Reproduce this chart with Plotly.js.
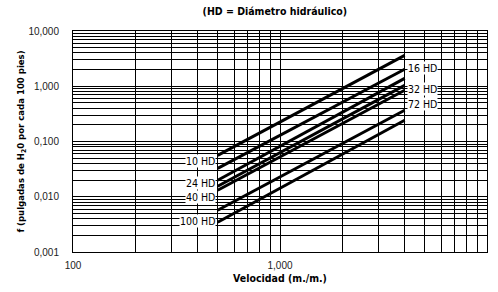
<!DOCTYPE html>
<html><head><meta charset="utf-8">
<script src="https://cdn.plot.ly/plotly-3.0.1.min.js"></script>
<style>html,body{margin:0;padding:0;background:#fff}</style>
</head><body>
<div id="chart" style="width:498px;height:292px"></div>
<script>
// Data
const seriesNames = ["10 HD", "16 HD", "24 HD", "32 HD", "40 HD", "72 HD", "100 HD"];
const velocity = [500, 4000];
const lossStart = [0.056, 0.0327, 0.0199, 0.0155, 0.0131, 0.00569, 0.00345];
const lossEnd = [3.63, 2.03, 1.39, 1.04, 0.845, 0.367, 0.242];
const xTickLabels = ["100", "1,000", "10,000"];
const yTickLabels = ["0,001", "0,010", "0,100", "1,000", "10,000"];
const leftLabels = ["10 HD", "24 HD", "40 HD", "100 HD"];
const rightLabels = ["16 HD", "32 HD", "72 HD"];

const narrow = '"Liberation Sans Narrow", "Arial Narrow", "DejaVu Sans Condensed", sans-serif';
const regular = '"Liberation Sans", Arial, sans-serif';

function gridTicks(fromExp, toExp, labels) {
  const vals = [], txt = [];
  for (let e = fromExp; e <= toExp; e++) {
    for (let m = 1; m <= 9; m++) {
      if (e === toExp && m > 1) break;
      vals.push(m * Math.pow(10, e));
      txt.push(m === 1 ? labels[e - fromExp] : "");
    }
  }
  return {vals, txt};
}
const xt = gridTicks(2, 4, xTickLabels);
const yt = gridTicks(-3, 1, yTickLabels);

const traces = seriesNames.map((n, i) => ({
  type: "scatter", mode: "lines", name: n,
  x: velocity, y: [lossStart[i], lossEnd[i]],
  line: {color: "#000", width: 3}, showlegend: false, hoverinfo: "skip"
}));

// label positions (layout): pixel offsets from the line ends
const leftShift = {"10 HD": -5.7, "24 HD": -3, "40 HD": -7, "100 HD": 1};
const rightShift = {"16 HD": 1, "32 HD": -4, "72 HD": 6};
const annotations = [];
leftLabels.forEach(n => {
  const i = seriesNames.indexOf(n);
  annotations.push({
    x: Math.log10(velocity[0]), y: Math.log10(lossStart[i]), xref: "x", yref: "y",
    text: n, showarrow: false, xanchor: "right", yanchor: "middle",
    xshift: -2, yshift: leftShift[n], bgcolor: "#fff", borderpad: 0,
    font: {family: narrow, size: 10.5, color: "#000"}
  });
});
rightLabels.forEach(n => {
  const i = seriesNames.indexOf(n);
  annotations.push({
    x: Math.log10(velocity[1]), y: Math.log10(lossEnd[i]), xref: "x", yref: "y",
    text: n, showarrow: false, xanchor: "left", yanchor: "middle",
    xshift: 2, yshift: rightShift[n], bgcolor: "#fff", borderpad: 0,
    font: {family: narrow, size: 10.5, color: "#000"}
  });
});

const layout = {
  width: 498, height: 292,
  margin: {l: 73, r: 11, t: 31, b: 40},
  paper_bgcolor: "#fff", plot_bgcolor: "#fff",
  title: {text: "<b>(HD = Diámetro hidráulico)</b>", x: 0.552, xanchor: "center", y: 0.962, yanchor: "middle",
    font: {family: narrow, size: 10.5, color: "#000"}},
  xaxis: {
    type: "log", range: [2, 4], tickmode: "array", tickvals: xt.vals, ticktext: xt.txt,
    showgrid: true, gridcolor: "#000", gridwidth: 1,
    showline: true, linecolor: "#000", linewidth: 1, mirror: true,
    ticks: "outside", ticklen: 4, tickcolor: "rgba(0,0,0,0)",
    tickfont: {family: regular, size: 10, color: "#222"},
    zeroline: false,
    title: {text: "<b>Velocidad (m./m.)</b>", standoff: 4, font: {family: narrow, size: 10.5, color: "#000"}}
  },
  yaxis: {
    type: "log", range: [-3, 1], tickmode: "array", tickvals: yt.vals, ticktext: yt.txt,
    showgrid: true, gridcolor: "#000", gridwidth: 1,
    showline: true, linecolor: "#000", linewidth: 1, mirror: true,
    ticks: "outside", ticklen: 11, tickcolor: "rgba(0,0,0,0)",
    tickfont: {family: regular, size: 10, color: "#222"},
    zeroline: false,
    title: {text: "<b>f (pulgadas de H<sub>2</sub>0 por cada 100 pies)</b>", standoff: 2, font: {family: narrow, size: 9.5, color: "#000"}}
  },
  annotations: annotations
};

Plotly.newPlot("chart", traces, layout, {displayModeBar: false, staticPlot: true});
</script>
</body></html>
